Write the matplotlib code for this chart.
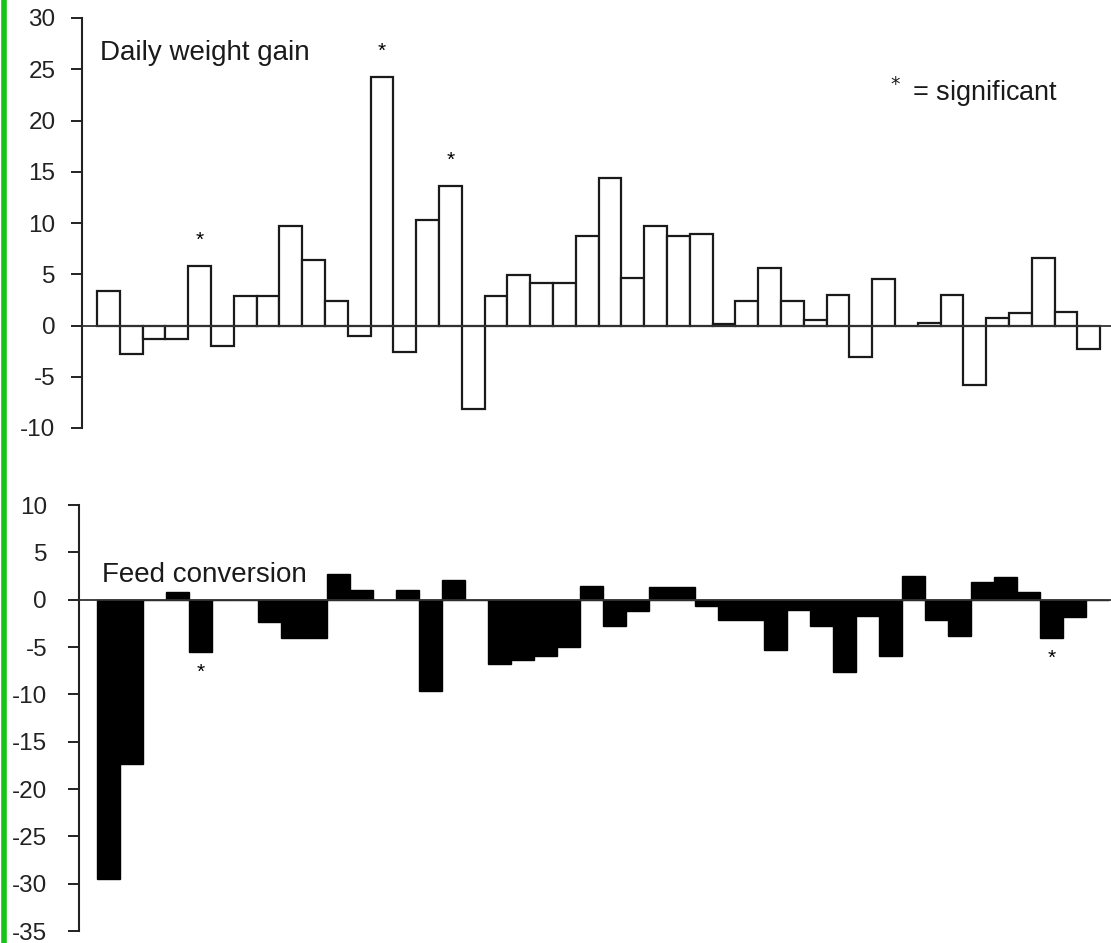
import matplotlib
matplotlib.use("Agg")
import matplotlib.pyplot as plt
import numpy as np

plt.rcParams['font.family'] = ['Liberation Sans', 'DejaVu Sans']
plt.rcParams['axes.unicode_minus'] = False

# --- data ----------------------------------------------------------------
gain = [3.4, -2.8, -1.3, -1.3, 5.8, -2.0, 2.9, 2.9, 9.7, 6.4, 2.4, -1.0,
        24.2, -2.6, 10.3, 13.6, -8.1, 2.9, 4.9, 4.1, 4.1, 8.7, 14.4, 4.6,
        9.7, 8.7, 8.9, 0.1, 2.4, 5.6, 2.4, 0.5, 3.0, -3.1, 4.5, 0.0, 0.2,
        3.0, -5.8, 0.7, 1.2, 6.6, 1.3, -2.3]
feed = [-29.5, -17.4, 0.0, 0.8, -5.5, 0.0, 0.0, -2.4, -4.0, -4.0, 2.7, 1.0,
        0.0, 1.0, -9.6, 2.1, 0.0, -6.8, -6.4, -5.9, -5.0, 1.4, -2.8, -1.2,
        1.3, 1.3, -0.7, -2.2, -2.2, -5.3, -1.1, -2.8, -7.6, -1.7, -6.0, 2.5,
        -2.1, -3.8, 1.9, 2.4, 0.8, -4.0, -1.8, 0.0]
gain_sig = [4, 12, 15]      # bar index with significant difference
feed_sig = [4, 41]

gain_ticks = [30, 25, 20, 15, 10, 5, 0, -5, -10]
feed_ticks = [10, 5, 0, -5, -10, -15, -20, -25, -30, -35]

x = np.arange(len(gain))

fig = plt.figure(figsize=(11.11, 9.43), dpi=100)

# green border line on the left of the scan
fig.add_artist(plt.Line2D([0.004, 0.004], [0, 1], color='#16c616', lw=4,
                          transform=fig.transFigure))

def style_axis(ax, ticks, pad):
    for s in ['top', 'right', 'bottom']:
        ax.spines[s].set_visible(False)
    ax.spines['left'].set_linewidth(1.5)
    ax.spines['left'].set_color('#222222')
    ax.set_yticks(ticks)
    ax.set_xticks([])
    ax.tick_params(axis='y', direction='out', length=8, width=1.4,
                   labelsize=17.5, pad=pad, colors='#222222')
    ax.axhline(0, color='#333333', lw=1.3, zorder=3)

# ===================== Daily weight gain =====================
ax1 = fig.add_axes([82 / 1111, (943 - 428) / 943, 1029 / 1111, 410 / 943])
ax1.bar(x, gain, width=1.0, color='white', edgecolor='#1a1a1a', linewidth=1.6)
ax1.set_xlim(-0.5 - 15 / 22.8, -0.5 + (1111 - 97) / 22.8)
ax1.set_ylim(-10, 30)
style_axis(ax1, gain_ticks, 11)
for i in gain_sig:
    ax1.text(x[i], gain[i] + 1.6, '*', ha='center', va='bottom', fontsize=15)
ax1.text(18 / 1029, 0.915, 'Daily weight gain', transform=ax1.transAxes,
         fontsize=20, va='center', ha='left', color='#1a1a1a')
ax1.text(805 / 1029, 0.82, '$^*$ = significant', transform=ax1.transAxes,
         fontsize=19.5, va='center', ha='left', color='#1a1a1a')

# ===================== Feed conversion =====================
ax2 = fig.add_axes([79 / 1111, (943 - 931) / 943, 1032 / 1111, 426 / 943])
ax2.bar(x, feed, width=1.0, color='black', edgecolor='black', linewidth=1.0)
ax2.set_xlim(-0.5 - 18 / 23.0, -0.5 + (1111 - 97) / 23.0)
ax2.set_ylim(-35, 10)
style_axis(ax2, feed_ticks, 15)
for i in feed_sig:
    ax2.text(x[i], feed[i] - 1.2, '*', ha='center', va='top', fontsize=15)
ax2.text(23 / 1032, 0.835, 'Feed conversion', transform=ax2.transAxes,
         fontsize=20, va='center', ha='left', color='#1a1a1a')

fig.savefig('out.png', dpi=100, facecolor='white')
